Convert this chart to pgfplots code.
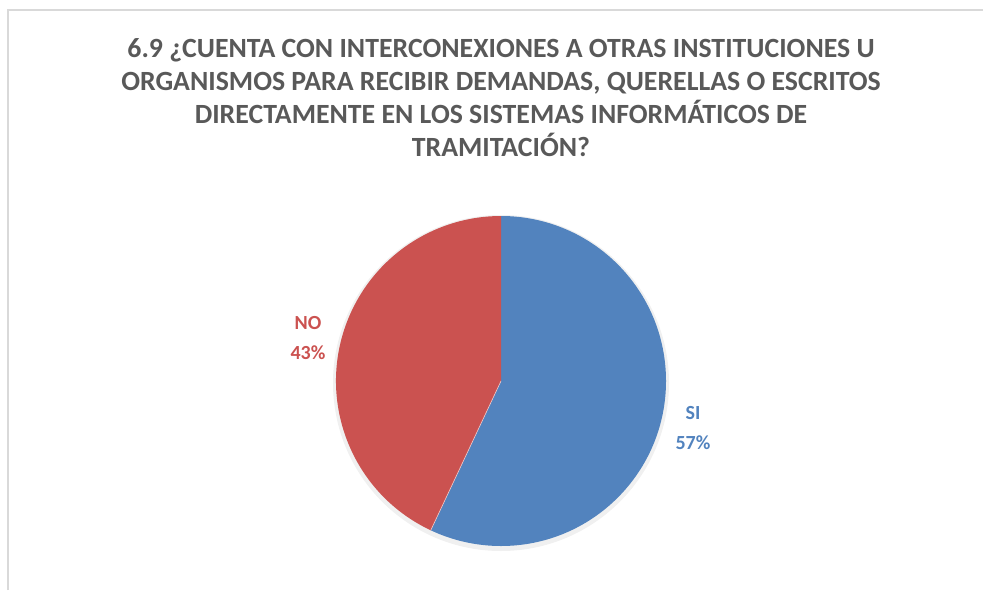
\documentclass[border=0pt]{standalone}
\usepackage{fontspec}
\setmainfont{Carlito}
\usepackage{pgfplots}
\usepackage{pgfplotstable}
\pgfplotsset{compat=1.18}
\definecolor{siblue}{HTML}{5283BE}
\definecolor{nored}{HTML}{CB5250}
\definecolor{titlegray}{HTML}{595959}
\definecolor{framegray}{HTML}{D9D9D9}

% share of answers, in percent
\pgfplotstableread{
label value
SI 57
NO 43
}\piedata

\begin{document}
\begin{tikzpicture}
\pgfplotstablegetelem{0}{value}\of\piedata \let\vsi\pgfplotsretval
\pgfplotstablegetelem{1}{value}\of\piedata \let\vno\pgfplotsretval
\pgfmathsetmacro{\asplit}{90-3.6*\vsi}
\begin{axis}[scale only axis, width=491.5pt, height=295pt,
  xmin=0, xmax=983, ymin=0, ymax=590, hide axis, clip=false]
\draw[framegray, line width=0.8pt] (axis cs:8,0) -- (axis cs:8,580) -- (axis cs:983,580);
% soft shadow
\fill[black!6] (axis cs:501,207) circle[radius=84pt];
\fill[siblue] (axis cs:501,209) -- ++(90:82.5pt) arc[start angle=90, end angle=\asplit, radius=82.5pt] -- cycle;
\fill[nored] (axis cs:501,209) -- ++(\asplit:82.5pt) arc[start angle=\asplit, end angle=-270, radius=82.5pt] -- cycle;
\draw[white!70!nored, line width=0.3pt] (axis cs:501,209) -- ++(\asplit:82.5pt);
\node[font=\bfseries\fontsize{13.9}{16.5}\selectfont, text=titlegray, align=center]
  at (axis cs:501,492.5) {6.9 ¿CUENTA CON INTERCONEXIONES A OTRAS INSTITUCIONES U\\
  ORGANISMOS PARA RECIBIR DEMANDAS, QUERELLAS O ESCRITOS\\
  DIRECTAMENTE EN LOS SISTEMAS INFORMÁTICOS DE\\
  TRAMITACIÓN?};
\node[font=\bfseries\fontsize{10}{15}\selectfont, text=siblue, align=center]
  at (axis cs:693,162) {SI\\\vsi\%};
\node[font=\bfseries\fontsize{10}{15}\selectfont, text=nored, align=center]
  at (axis cs:308,252) {NO\\\vno\%};
\end{axis}
\pgfresetboundingbox
\useasboundingbox (0,0) rectangle (491.5pt,295pt);
\end{tikzpicture}
\end{document}
